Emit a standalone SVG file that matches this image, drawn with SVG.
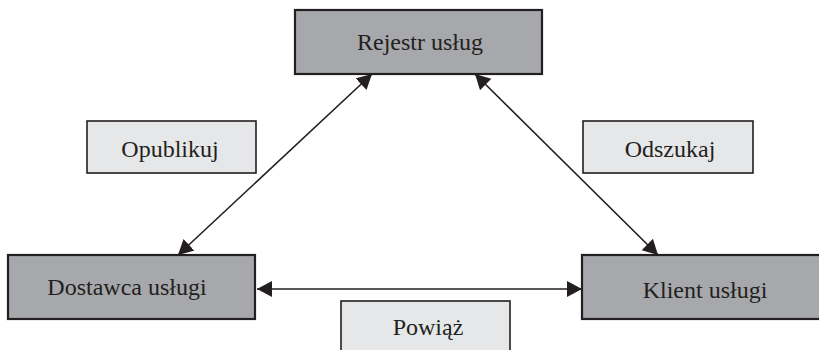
<svg xmlns="http://www.w3.org/2000/svg" width="819" height="350" viewBox="0 0 819 350">
<style>
.main{fill:#a7a8ab;stroke:#231f20;stroke-width:2.2}
.lbl{fill:#e6e7e8;stroke:#231f20;stroke-width:1.6}
.t{font-family:"Liberation Serif","Times New Roman",serif;font-size:24px;fill:#231f20;text-anchor:middle}
.c{stroke:#231f20;stroke-width:1.6;fill:none;marker-start:url(#ah);marker-end:url(#ah)}
</style>
<defs>
<marker id="ah" markerUnits="userSpaceOnUse" markerWidth="18" markerHeight="18" refX="15" refY="8" orient="auto-start-reverse">
<path d="M0,0 L15,8 L0,16 Z" fill="#231f20"/>
</marker>
</defs>
<rect width="819" height="350" fill="#ffffff"/>
<g id="connectors">
<line class="c" x1="178" y1="255" x2="372" y2="74"/>
<line class="c" x1="475" y1="74" x2="658" y2="255"/>
<line class="c" x1="257" y1="289" x2="582" y2="289"/>
</g>
<g id="rejestr">
<rect class="main" x="295" y="10" width="247" height="64"/>
<text class="t" x="420" y="50">Rejestr usług</text>
</g>
<g id="dostawca">
<rect class="main" x="8" y="255" width="247" height="64"/>
<text class="t" x="127" y="295">Dostawca usługi</text>
</g>
<g id="klient">
<rect class="main" x="582" y="255" width="240" height="64"/>
<text class="t" x="705" y="298">Klient usługi</text>
</g>
<g id="opublikuj">
<rect class="lbl" x="87" y="121" width="169" height="52"/>
<text class="t" x="170" y="157">Opublikuj</text>
</g>
<g id="odszukaj">
<rect class="lbl" x="583" y="121" width="170" height="52"/>
<text class="t" x="670" y="157">Odszukaj</text>
</g>
<g id="powiaz">
<rect class="lbl" x="341" y="301" width="169" height="60"/>
<text class="t" x="428" y="335">Powiąż</text>
</g>
</svg>
